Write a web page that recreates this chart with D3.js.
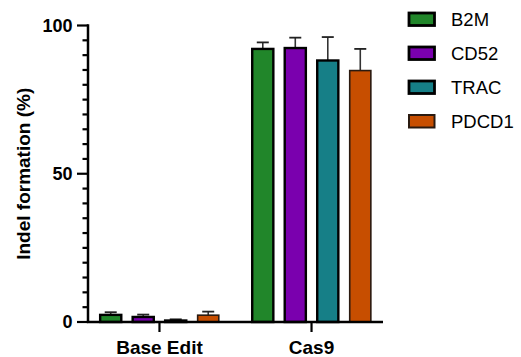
<!DOCTYPE html>
<html>
<head>
<meta charset="utf-8">
<script src="https://cdn.jsdelivr.net/npm/d3@7"></script>
<style>
  html, body { margin: 0; padding: 0; background: #fff; }
  svg { display: block; }
  text { font-family: "Liberation Sans", Arial, sans-serif; fill: #000; }
</style>
</head>
<body>
<svg id="chart" width="521" height="357"></svg>
<script>
// Groups along the x axis and the genes plotted within each group
const groups = ["Base Edit", "Cas9"];
const genes = ["B2M", "CD52", "TRAC", "PDCD1"];

// Mean indel formation (%) per gene, one array per group
const baseEditMeans = [2.4, 1.7, 0.5, 2.3];
const cas9Means = [92.1, 92.4, 88.2, 84.8];

// Upper error (SD) per gene
const baseEditErr = [0.9, 0.8, 0.4, 1.2];
const cas9Err = [2.2, 3.5, 7.9, 7.3];

const yTicks = [0, 50, 100];
const yLabel = "Indel formation (%)";

const fills = ["#21862a", "#7a00ae", "#167f87", "#c74e00"];
const strokes = ["#000", "#000", "#000", "#2a1a10"];
const strokeW = [2.4, 2.4, 2.4, 1.6];

const rows = [
  { group: groups[0], means: baseEditMeans, errs: baseEditErr },
  { group: groups[1], means: cas9Means, errs: cas9Err }
];

const svg = d3.select("#chart");

const x0 = 88, x1 = 383, yTop = 25.5, yBot = 322;

const x = d3.scalePoint().domain(groups).range([x0, x1]).padding(0.47);
const xi = d3.scaleBand().domain(genes).range([-65, 65])
  .paddingInner(0.35).paddingOuter(0.175);
const y = d3.scaleLinear().domain([0, 100]).range([yBot, yTop]);

// Bars with error bars (upper whisker only)
const g = svg.append("g");
rows.forEach(row => {
  const cx = x(row.group);
  genes.forEach((gene, i) => {
    const bx = cx + xi(gene);
    const bw = xi.bandwidth();
    const v = row.means[i];
    const e = row.errs[i];
    const mx = bx + bw / 2;
    // whisker
    g.append("line")
      .attr("x1", mx).attr("x2", mx)
      .attr("y1", y(v)).attr("y2", y(v + e))
      .attr("stroke", "#333").attr("stroke-width", 1.6);
    g.append("line")
      .attr("x1", mx - 6).attr("x2", mx + 6)
      .attr("y1", y(v + e)).attr("y2", y(v + e))
      .attr("stroke", "#222").attr("stroke-width", 1.8);
    g.append("rect")
      .attr("x", bx).attr("width", bw)
      .attr("y", y(v)).attr("height", y(0) - y(v))
      .attr("fill", fills[i])
      .attr("stroke", strokes[i])
      .attr("stroke-width", strokeW[i]);
  });
});

// Y axis: major ticks with labels, minor ticks every 5
const yAxis = svg.append("g").attr("transform", `translate(${x0},0)`);
yAxis.append("line")
  .attr("x1", 0).attr("x2", 0).attr("y1", y(100) - 1.2).attr("y2", y(0))
  .attr("stroke", "#000").attr("stroke-width", 2.5);
d3.range(0, 101, 5).forEach(t => {
  const major = yTicks.includes(t);
  yAxis.append("line")
    .attr("x1", major ? -11 : -5.5).attr("x2", 0)
    .attr("y1", y(t)).attr("y2", y(t))
    .attr("stroke", "#000").attr("stroke-width", 2.2);
});
yAxis.selectAll("text.tick").data(yTicks).join("text")
  .attr("class", "tick")
  .attr("x", -15.5).attr("y", d => y(d))
  .attr("dy", "0.36em")
  .attr("text-anchor", "end")
  .attr("font-weight", "bold")
  .attr("font-size", 18)
  .text(d => d);

// X axis
const xAxis = svg.append("g").attr("transform", `translate(0,${yBot})`);
xAxis.append("line")
  .attr("x1", x0 - 1.2).attr("x2", x1).attr("y1", 0).attr("y2", 0)
  .attr("stroke", "#000").attr("stroke-width", 2.5);
groups.forEach(grp => {
  xAxis.append("line")
    .attr("x1", x(grp)).attr("x2", x(grp)).attr("y1", 0).attr("y2", 10)
    .attr("stroke", "#000").attr("stroke-width", 2.2);
  xAxis.append("text")
    .attr("x", x(grp)).attr("y", 31.5)
    .attr("text-anchor", "middle")
    .attr("font-weight", "bold")
    .attr("font-size", 19)
    .text(grp);
});

// Y axis title
svg.append("text")
  .attr("transform", `translate(30,${(yTop + yBot) / 2}) rotate(-90)`)
  .attr("text-anchor", "middle")
  .attr("font-weight", "bold")
  .attr("font-size", 19)
  .text(yLabel);

// Legend
const legend = svg.append("g").attr("transform", "translate(409,13)");
genes.forEach((gene, i) => {
  const row = legend.append("g").attr("transform", `translate(0,${i * 34})`);
  row.append("rect")
    .attr("x", 0).attr("y", 0).attr("width", 25.5).attr("height", 12.5)
    .attr("fill", fills[i])
    .attr("stroke", strokes[i])
    .attr("stroke-width", strokeW[i] + 0.4);
  row.append("text")
    .attr("x", 42).attr("y", 6.5).attr("dy", "0.36em")
    .attr("font-size", 18.5)
    .text(gene);
});
</script>
</body>
</html>
